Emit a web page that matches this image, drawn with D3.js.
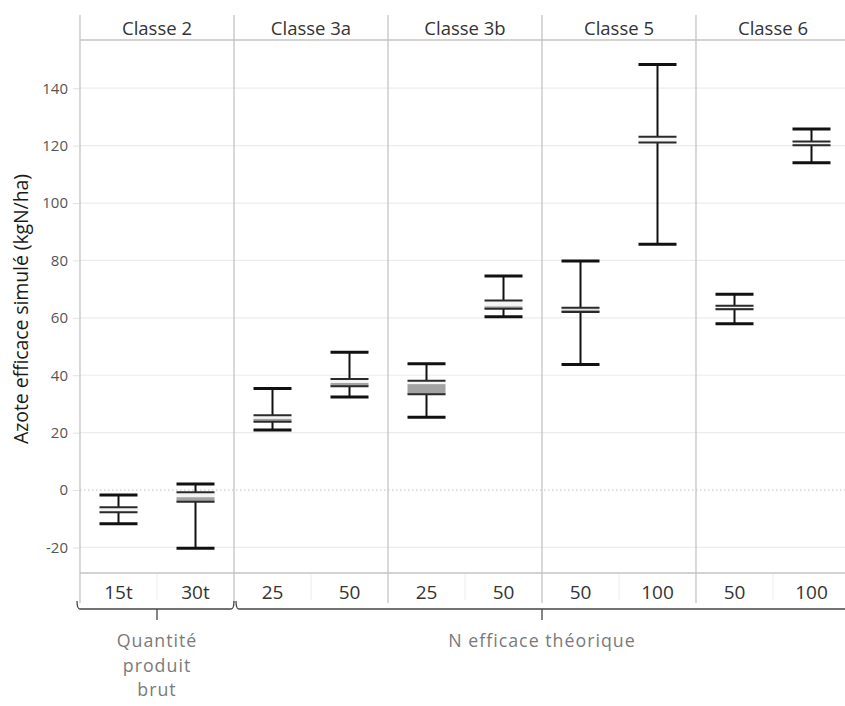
<!DOCTYPE html>
<html>
<head>
<meta charset="utf-8">
<script src="https://cdn.jsdelivr.net/npm/d3@7/dist/d3.min.js"></script>
<style>
  html, body { margin: 0; padding: 0; background: #fff; }
  svg { display: block; font-family: "Open Sans", "Noto Sans", sans-serif; }
</style>
</head>
<body>
<svg id="chart" width="845" height="706"></svg>
<script>
// Facets (classes) and the two doses simulated in each one
const classes = ["Classe 2", "Classe 3a", "Classe 3b", "Classe 5", "Classe 6"];
const doses = [["15t", "30t"], ["25", "50"], ["25", "50"], ["50", "100"], ["50", "100"]];

// Box-plot statistics, one entry per (class, dose), in reading order
const minVals = [-11.7, -20.3, 20.9, 32.4, 25.4, 60.4, 43.7, 85.6, 57.9, 114.0];
const q1Vals  = [-7.7,  -4.1,  23.8, 36.2, 33.4, 63.2, 62.0, 121.1, 63.0, 120.1];
const medVals = [-7.6,  -2.5,  24.8, 37.3, 36.9, 64.0, 62.8, 121.3, 63.4, 120.3];
const q3Vals  = [-6.0,  -0.8,  26.1, 38.7, 38.1, 66.0, 63.5, 123.1, 64.2, 121.4];
const maxVals = [-1.7,   2.1,  35.4, 48.0, 44.0, 74.6, 79.8, 148.3, 68.2, 125.8];

// Y axis ticks and title
const yTicks = [-20, 0, 20, 40, 60, 80, 100, 120, 140];
const yTitle = "Azote efficace simulé (kgN/ha)";

// Bottom groupings of the classes
const groupLabels = [["Quantité", "produit", "brut"], ["N efficace théorique"]];
const groupMembers = [["Classe 2"], ["Classe 3a", "Classe 3b", "Classe 5", "Classe 6"]];

// ---- layout ----
const svg = d3.select("#chart");
const W = 845;
const left = 80, right = 850;
const topFrame = 15, headerBottom = 40, plotBottom = 573, labelBottom = 603;

const x0 = d3.scaleBand().domain(classes).range([left, right]);
const x1 = d3.scaleBand().domain([0, 1]).range([0, x0.bandwidth()]);
const y = d3.scaleLinear().domain([-28.9, 156.8]).range([plotBottom, headerBottom]);

const rows = [];
classes.forEach((c, i) => doses[i].forEach((d, j) => {
  const k = rows.length;
  rows.push({ cls: c, dose: d, j, min: minVals[k], q1: q1Vals[k], med: medVals[k], q3: q3Vals[k], max: maxVals[k] });
}));
const cx = r => x0(r.cls) + x1(r.j) + x1.bandwidth() / 2;

const gridColor = "#ececec";
const frameColor = "#c4c4c4";

// gridlines
svg.append("g").selectAll("line").data(yTicks.filter(t => t !== 0)).join("line")
  .attr("x1", left).attr("x2", W)
  .attr("y1", d => y(d)).attr("y2", d => y(d))
  .attr("stroke", gridColor).attr("stroke-width", 1.2);

// zero line
svg.append("line")
  .attr("x1", left).attr("x2", W).attr("y1", y(0)).attr("y2", y(0))
  .attr("stroke", "#bdbdbd").attr("stroke-width", 1).attr("stroke-dasharray", "1.5,2.5");

// y axis
const yAxis = svg.append("g").attr("transform", `translate(${left},0)`)
  .call(d3.axisLeft(y).tickValues(yTicks).tickSize(7).tickPadding(5).tickFormat(d => String(d)));
yAxis.select(".domain").remove();
yAxis.selectAll(".tick line").attr("stroke", "#e2e2e2");
yAxis.selectAll(".tick text").attr("fill", "#555").style("font-size", "15px")
  .style("font-family", "'Open Sans', sans-serif");

svg.append("text")
  .attr("transform", `translate(28,309) rotate(-90)`)
  .attr("text-anchor", "middle")
  .attr("fill", "#1a1a1a").style("font-size", "19.5px").style("letter-spacing", "-0.1px")
  .text(yTitle);

// sub-category separators in the label band
svg.append("g").selectAll("line").data(classes).join("line")
  .attr("x1", d => x0(d) + x0.bandwidth() / 2).attr("x2", d => x0(d) + x0.bandwidth() / 2)
  .attr("y1", plotBottom).attr("y2", labelBottom - 3)
  .attr("stroke", "#ececec").attr("stroke-width", 1);

// panel dividers (full height, header to label band)
svg.append("g").selectAll("line").data(classes.map(c => x0(c))).join("line")
  .attr("x1", d => d).attr("x2", d => d)
  .attr("y1", topFrame).attr("y2", labelBottom)
  .attr("stroke", frameColor).attr("stroke-width", 1.3);

// header bottom and plot bottom lines
[headerBottom, plotBottom].forEach(yy => svg.append("line")
  .attr("x1", left).attr("x2", W).attr("y1", yy).attr("y2", yy)
  .attr("stroke", frameColor).attr("stroke-width", 1.3));

// headers
svg.append("g").selectAll("text").data(classes).join("text")
  .attr("x", d => x0(d) + x0.bandwidth() / 2).attr("y", 34.5)
  .attr("text-anchor", "middle").attr("fill", "#333").style("font-size", "18.5px")
  .text(d => d);

// dose labels
svg.append("g").selectAll("text").data(rows).join("text")
  .attr("x", cx).attr("y", 599)
  .attr("text-anchor", "middle").attr("fill", "#333").style("font-size", "19px")
  .text(d => d.dose);

// box plots
const capHalf = 19;
const g = svg.append("g").selectAll("g").data(rows).join("g");
// whiskers
g.append("line").attr("x1", cx).attr("x2", cx).attr("y1", d => y(d.max)).attr("y2", d => y(d.q3))
  .attr("stroke", "#111").attr("stroke-width", 2);
g.append("line").attr("x1", cx).attr("x2", cx).attr("y1", d => y(d.q1)).attr("y2", d => y(d.min))
  .attr("stroke", "#111").attr("stroke-width", 2);
// upper and lower box halves
g.append("rect").attr("x", d => cx(d) - capHalf).attr("width", capHalf * 2)
  .attr("y", d => y(d.q3)).attr("height", d => y(d.med) - y(d.q3))
  .attr("fill", "#f4f4f4");
g.append("rect").attr("x", d => cx(d) - capHalf).attr("width", capHalf * 2)
  .attr("y", d => y(d.med)).attr("height", d => y(d.q1) - y(d.med))
  .attr("fill", "#a3a3a3");
// box edges (top and bottom only)
["q1", "q3"].forEach(k => g.append("line")
  .attr("x1", d => cx(d) - capHalf).attr("x2", d => cx(d) + capHalf)
  .attr("y1", d => y(d[k])).attr("y2", d => y(d[k]))
  .attr("stroke", "#2a2a2a").attr("stroke-width", 2));
// caps
["min", "max"].forEach(k => g.append("line")
  .attr("x1", d => cx(d) - capHalf).attr("x2", d => cx(d) + capHalf)
  .attr("y1", d => y(d[k])).attr("y2", d => y(d[k]))
  .attr("stroke", "#111").attr("stroke-width", 3));

// group brackets and labels
const bracketY = 609;
groupMembers.forEach((members, i) => {
  const x1b = x0(members[0]) + (i === 0 ? -3 : 2);
  const last = members[members.length - 1];
  const x2b = Math.min(x0(last) + x0.bandwidth(), W + 10);
  const mid = i === 0 ? x0(members[0]) + x0.bandwidth() / 2 : x0(members[2]);
  svg.append("path")
    .attr("d", `M${x1b},${bracketY - 8} Q${x1b},${bracketY} ${x1b + 3},${bracketY} L${x2b - 3},${bracketY} Q${x2b},${bracketY} ${x2b},${bracketY - 8}`)
    .attr("fill", "none").attr("stroke", "#444").attr("stroke-width", 1.3);
  svg.append("line").attr("x1", mid).attr("x2", mid).attr("y1", bracketY).attr("y2", bracketY + 11)
    .attr("stroke", "#444").attr("stroke-width", 1.3);
  const t = svg.append("text").attr("text-anchor", "middle").attr("fill", "#7a7a7a")
    .style("font-size", "17.8px").style("letter-spacing", "1px");
  groupLabels[i].forEach((line, li) => t.append("tspan")
    .attr("x", mid).attr("y", 647 + li * 24.6).text(line));
});
</script>
</body>
</html>
